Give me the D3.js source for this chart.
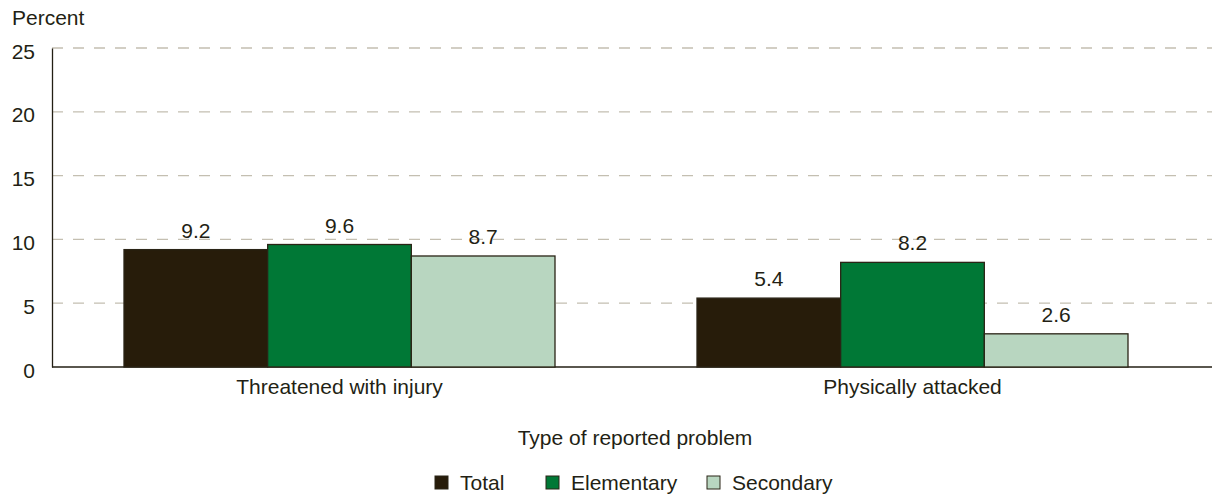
<!DOCTYPE html>
<html>
<head>
<meta charset="utf-8">
<script src="https://cdn.jsdelivr.net/npm/d3@7"></script>
<style>
  body { margin: 0; background: #fff; }
  svg text { font-family: "Liberation Sans", Arial, sans-serif; fill: #231f14; }
</style>
</head>
<body>
<div id="chart"></div>
<script>
let w = 1212;
let h = 497;
let fs = 21;

// data
let categories = ["Threatened with injury", "Physically attacked"];
let seriesNames = ["Total", "Elementary", "Secondary"];
let totalValues = [9.2, 5.4];
let elementaryValues = [9.6, 8.2];
let secondaryValues = [8.7, 2.6];
let yTicks = [0, 5, 10, 15, 20, 25];
let colors = ["#271c0a", "#007836", "#b8d6c0"];

let seriesValues = [totalValues, elementaryValues, secondaryValues];
let rows = categories.map(function (c, i) {
    return {
        category: c,
        values: seriesNames.map(function (s, j) {
            return { series: s, value: seriesValues[j][i] };
        })
    };
});

let viz = d3.select("#chart")
    .append("svg")
    .attr("width", w)
    .attr("height", h);

let yScale = d3.scaleLinear().domain([0, 25]).range([367, 48]);
let x0 = d3.scaleBand().domain(categories).range([53, 1199]);
let groupPad = 71;
let x1 = d3.scaleBand().domain(seriesNames).range([groupPad, x0.bandwidth() - groupPad]);
let color = d3.scaleOrdinal().domain(seriesNames).range(colors);

// gridlines
viz.append("g")
    .selectAll("line")
    .data(yTicks.filter(d => d > 0))
    .enter()
    .append("line")
    .attr("x1", 52)
    .attr("x2", w)
    .attr("y1", d => yScale(d))
    .attr("y2", d => yScale(d))
    .attr("stroke", "#c4bfb1")
    .attr("stroke-width", 1.3)
    .attr("stroke-dasharray", "11,10");

// y axis
let yAxis = d3.axisLeft(yScale).tickValues(yTicks).tickSize(0).tickPadding(17);
let yAxisGroup = viz.append("g").attr("transform", "translate(52,0)").call(yAxis);
yAxisGroup.select(".domain").attr("stroke", "#231f14").attr("stroke-width", 1.3);
yAxisGroup.selectAll("text").attr("font-size", fs).attr("fill", "#231f14").attr("dy", "0.48em");

// baseline
viz.append("line")
    .attr("x1", 52).attr("x2", w)
    .attr("y1", yScale(0)).attr("y2", yScale(0))
    .attr("stroke", "#231f14").attr("stroke-width", 1.3);

viz.append("text")
    .attr("x", 12)
    .attr("y", 25)
    .attr("font-size", fs)
    .text("Percent");

// bars
let groups = viz.selectAll(".group")
    .data(rows)
    .enter()
    .append("g")
    .attr("class", "group")
    .attr("transform", d => "translate(" + x0(d.category) + ",0)");

groups.selectAll("rect")
    .data(d => d.values)
    .enter()
    .append("rect")
    .attr("x", d => x1(d.series))
    .attr("y", d => yScale(d.value))
    .attr("width", x1.bandwidth())
    .attr("height", d => yScale(0) - yScale(d.value))
    .attr("fill", d => color(d.series))
    .attr("stroke", "#2a2416")
    .attr("stroke-width", 1.3);

groups.selectAll(".val")
    .data(d => d.values)
    .enter()
    .append("text")
    .attr("class", "val")
    .attr("x", d => x1(d.series) + x1.bandwidth() / 2)
    .attr("y", d => yScale(d.value) - 12)
    .attr("text-anchor", "middle")
    .attr("font-size", fs)
    .text(d => d3.format(".1f")(d.value));

// category labels
let xAxis = d3.axisBottom(x0).tickSize(0).tickPadding(12);
let xAxisGroup = viz.append("g").attr("transform", "translate(0," + yScale(0) + ")").call(xAxis);
xAxisGroup.select(".domain").remove();
xAxisGroup.selectAll("text").attr("font-size", fs).attr("fill", "#231f14");

viz.append("text")
    .attr("x", 635)
    .attr("y", 445)
    .attr("text-anchor", "middle")
    .attr("font-size", fs)
    .text("Type of reported problem");

// legend
let legendX = [435, 546, 707];
let legend = viz.selectAll(".legend")
    .data(seriesNames)
    .enter()
    .append("g")
    .attr("class", "legend")
    .attr("transform", (d, i) => "translate(" + legendX[i] + ",476)");

legend.append("rect")
    .attr("width", 13)
    .attr("height", 13)
    .attr("fill", d => color(d))
    .attr("stroke", "#2a2416")
    .attr("stroke-width", 1);

legend.append("text")
    .attr("x", 25)
    .attr("y", 14)
    .attr("font-size", fs)
    .text(d => d);
</script>
</body>
</html>
